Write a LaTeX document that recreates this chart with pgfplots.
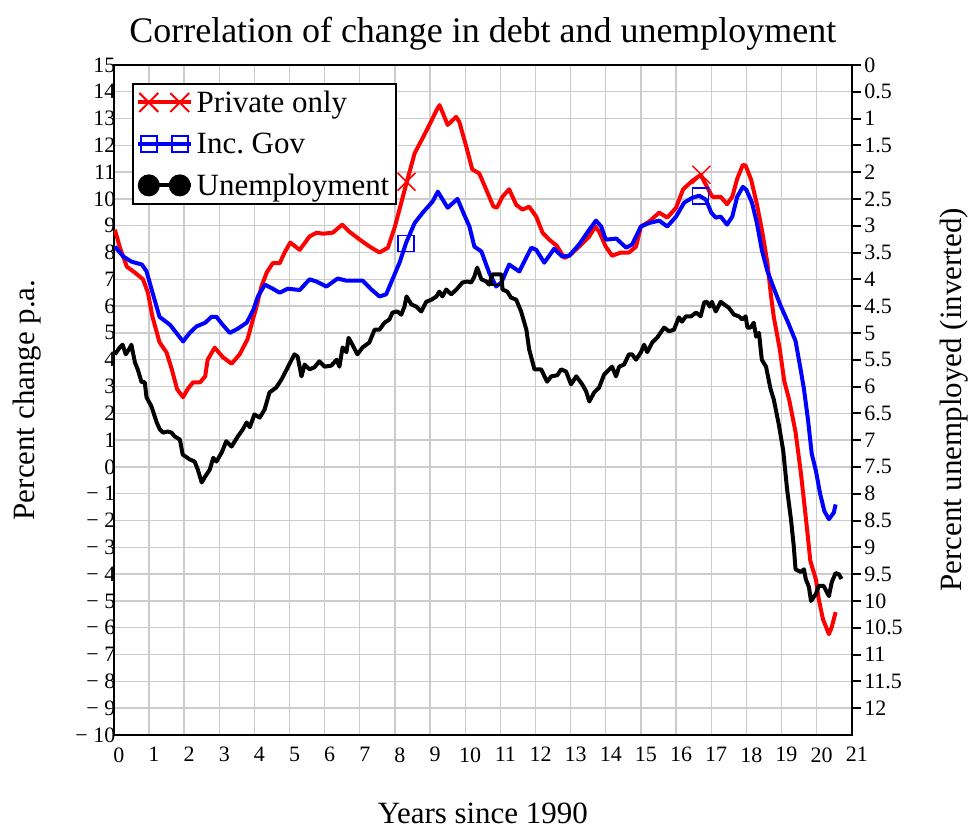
\documentclass[border=0pt]{standalone}
\usepackage{fontspec}
\setmainfont{Liberation Serif}
\usepackage{pgfplots}
\pgfplotsset{compat=1.18}
\usetikzlibrary{calc}

\newcommand{\tickfont}{\fontsize{22}{24}\selectfont}
\newcommand{\labfont}{\fontsize{31}{36}\selectfont}

\begin{document}
\begin{tikzpicture}
%------------- left axis: debt change -------------
\begin{axis}[
  name=ax,
  scale only axis, width=739pt, height=671pt,
  xmin=0, xmax=21, ymin=-10, ymax=15,
  xtick={0,...,21}, ytick={-10,...,15},
  yticklabels={− 10,− 9,− 8,− 7,− 6,− 5,− 4,− 3,− 2,− 1,0,1,2,3,4,5,6,7,8,9,10,11,12,13,14,15},
  grid=major, grid style={black!20, line width=1.3pt},
  major tick length=0pt,
  axis line style={line width=2pt},
  tick label style={font=\tickfont},
  /pgf/number format/assume math mode=true,
  xticklabel style={xshift=5pt, yshift=-9pt},
  yticklabel style={xshift=5pt},
  title={Correlation of change in debt and unemployment},
  title style={font=\fontsize{36}{40}\selectfont, yshift=5pt},
  xlabel={Years since 1990},
  xlabel style={font=\labfont, at={(axis description cs:0.5,-0.117)}, anchor=center},
  ylabel={Percent change p.a.},
  ylabel style={font=\labfont, at={(axis description cs:-0.117,0.5)}, anchor=center},
  legend style={at={(0.0244,0.973)}, anchor=north west, draw=black, line width=2pt,
                fill=white, font=\labfont, inner sep=3pt, row sep=11pt,
                nodes={inner sep=4pt}},
  legend cell align=left,
  legend image code/.code={\draw[#1, mark indices={2,3}] plot coordinates {(0pt,0pt) (11pt,0pt) (42pt,0pt) (53pt,0pt)};},
]
\addlegendimage{red, line width=4pt, mark=x, mark size=13.4pt, mark options={line width=2pt}}
\addlegendentry{Private only}
\addlegendimage{blue, line width=4pt, mark=square, mark size=8pt, mark options={line width=2pt, fill=white}}
\addlegendentry{Inc.\ Gov}
\addlegendimage{black, line width=4pt, mark=*, mark size=9pt, mark options={fill=black}}
\addlegendentry{Unemployment}

% private debt only
\addplot[forget plot, red, line width=4pt, line join=round] coordinates {
(0.03,8.85)(0.17,8.2)(0.37,7.47)(0.6,7.25)(0.83,7.0)(0.97,6.5)(1.1,5.6)(1.3,4.65)
(1.5,4.27)(1.65,3.64)(1.8,2.9)(1.97,2.6)(2.1,2.9)(2.25,3.15)(2.45,3.15)(2.6,3.38)
(2.67,4.0)(2.87,4.45)(3.1,4.1)(3.35,3.85)(3.58,4.2)(3.8,4.75)(4.06,5.98)(4.2,6.73)
(4.35,7.25)(4.52,7.6)(4.72,7.6)(4.86,8.0)(5.02,8.37)(5.29,8.1)(5.57,8.6)(5.77,8.74)
(5.95,8.7)(6.23,8.74)(6.5,9.04)(6.7,8.78)(7.0,8.48)(7.28,8.22)(7.56,8.0)(7.8,8.18)
(8.0,8.97)(8.18,9.86)(8.33,10.6)(8.56,11.7)(8.8,12.3)(8.98,12.76)(9.18,13.3)(9.27,13.5)
(9.5,12.76)(9.74,13.06)(9.83,12.88)(10.03,11.95)(10.2,11.1)(10.4,10.95)(10.6,10.34)
(10.8,9.72)(10.9,9.67)(11.06,10.08)(11.25,10.36)(11.45,9.78)(11.63,9.6)(11.82,9.71)
(12.02,9.34)(12.2,8.74)(12.39,8.48)(12.6,8.26)(12.82,7.8)(12.96,7.88)(13.24,8.22)
(13.53,8.6)(13.7,8.97)(13.81,8.78)(14.0,8.22)(14.18,7.88)(14.43,8.0)(14.66,8.0)
(14.86,8.22)(15.0,8.97)(15.23,9.15)(15.52,9.49)(15.75,9.3)(16.0,9.67)(16.2,10.36)
(16.46,10.67)(16.7,10.9)(16.94,10.3)(17.03,10.08)(17.27,10.08)(17.45,9.8)(17.6,10.08)
(17.74,10.75)(17.9,11.27)(17.98,11.24)(18.14,10.7)(18.3,9.8)(18.45,8.8)(18.6,7.6)
(18.7,6.4)(18.78,5.6)(18.95,4.4)(19.08,3.2)(19.22,2.5)(19.4,1.3)(19.55,-0.2)
(19.66,-1.5)(19.75,-2.6)(19.82,-3.5)(19.98,-4.2)(20.06,-4.93)(20.18,-5.68)
(20.35,-6.24)(20.43,-5.98)(20.54,-5.42)
};
\addplot[forget plot, only marks, red, mark=x, mark size=12.7pt, line width=1.5pt]
  coordinates {(8.33,10.64)(16.72,10.9)};

% including government debt
\addplot[forget plot, blue, line width=4pt, line join=round] coordinates {
(0.03,8.22)(0.27,7.85)(0.5,7.66)(0.8,7.55)(0.93,7.3)(1.08,6.6)(1.3,5.6)(1.6,5.3)
(1.78,5.0)(1.97,4.68)(2.16,5.0)(2.35,5.24)(2.6,5.38)(2.78,5.6)(2.92,5.6)(3.1,5.3)
(3.3,5.0)(3.53,5.16)(3.78,5.38)(3.97,5.86)(4.1,6.36)(4.3,6.8)(4.52,6.65)(4.72,6.5)
(4.95,6.65)(5.29,6.6)(5.57,7.0)(5.76,6.92)(6.05,6.73)(6.37,7.03)(6.61,6.95)
(7.08,6.95)(7.33,6.62)(7.56,6.36)(7.75,6.44)(7.93,7.0)(8.13,7.62)(8.32,8.37)
(8.56,9.1)(8.8,9.5)(9.07,9.9)(9.22,10.27)(9.5,9.67)(9.78,10.0)(9.97,9.41)(10.12,8.97)
(10.26,8.22)(10.46,8.04)(10.68,7.25)(10.88,6.73)(11.03,6.88)(11.25,7.55)(11.54,7.29)
(11.68,7.66)(11.88,8.18)(12.02,8.1)(12.25,7.62)(12.53,8.14)(12.76,7.85)(12.96,7.88)
(13.24,8.3)(13.53,8.85)(13.72,9.19)(13.87,8.97)(14.0,8.48)(14.3,8.52)(14.58,8.18)
(14.75,8.3)(15.0,8.97)(15.23,9.1)(15.52,9.19)(15.75,8.97)(16.0,9.34)(16.23,9.86)
(16.46,10.04)(16.66,10.12)(16.85,9.97)(17.0,9.49)(17.13,9.3)(17.27,9.34)(17.45,9.04)
(17.6,9.34)(17.74,10.08)(17.9,10.45)(18.0,10.34)(18.16,9.86)(18.3,9.1)(18.44,8.1)
(18.6,7.3)(18.83,6.5)(18.98,6.0)(19.2,5.35)(19.4,4.7)(19.55,3.6)(19.64,2.9)
(19.76,1.7)(19.86,0.5)(19.98,-0.15)(20.1,-1.0)(20.22,-1.65)(20.35,-1.95)
(20.49,-1.7)(20.54,-1.4)
};
\addplot[forget plot, only marks, blue, mark=square, mark size=8pt, line width=1.5pt]
  coordinates {(8.32,8.33)(16.7,10.1)};
\end{axis}

%------------- right axis: unemployment, inverted -------------
\begin{axis}[
  at={(ax.south west)}, anchor=south west,
  scale only axis, width=739pt, height=671pt,
  xmin=0, xmax=21, ymin=0, ymax=12.5, y dir=reverse,
  axis x line=none, axis y line*=right,
  ytick={0,0.5,...,12},
  tick align=outside, major tick length=9pt,
  tick style={black, line width=2pt},
  axis line style={line width=2pt},
  tick label style={font=\tickfont},
  /pgf/number format/assume math mode=true,
  ylabel={Percent unemployed (inverted)},
  ylabel style={font=\labfont, at={(axis description cs:1.138,0.5)}, anchor=center},
]
\addplot[black, line width=4pt, line join=round] coordinates {
(0.03,5.40)(0.17,5.27)(0.25,5.22)(0.34,5.40)(0.43,5.31)(0.5,5.22)(0.6,5.55)(0.68,5.68)
(0.79,5.92)(0.88,5.92)(0.93,6.2)(1.07,6.37)(1.22,6.67)(1.31,6.8)(1.4,6.86)(1.53,6.84)
(1.64,6.86)(1.73,6.93)(1.88,6.99)(1.96,7.27)(2.16,7.36)(2.3,7.4)(2.39,7.55)(2.5,7.79)
(2.59,7.69)(2.73,7.55)(2.83,7.33)(2.92,7.4)(3.07,7.23)(3.2,7.02)(3.35,7.12)(3.53,6.93)
(3.67,6.8)(3.78,6.67)(3.87,6.76)(4.0,6.52)(4.15,6.58)(4.29,6.43)(4.43,6.11)(4.62,6.02)
(4.77,5.87)(4.92,5.68)(5.06,5.5)(5.14,5.40)(5.23,5.44)(5.34,5.81)(5.43,5.59)(5.57,5.68)
(5.71,5.64)(5.85,5.53)(6.0,5.63)(6.19,5.61)(6.34,5.5)(6.42,5.63)(6.51,5.27)(6.62,5.36)
(6.68,5.09)(6.79,5.22)(6.93,5.40)(7.08,5.27)(7.27,5.18)(7.42,4.94)(7.56,4.94)(7.7,4.81)
(7.84,4.75)(7.93,4.62)(8.07,4.60)(8.18,4.66)(8.27,4.51)(8.33,4.32)(8.47,4.47)(8.61,4.51)
(8.75,4.60)(8.89,4.42)(9.04,4.38)(9.18,4.32)(9.26,4.23)(9.35,4.32)(9.46,4.19)(9.6,4.28)
(9.75,4.19)(9.83,4.13)(9.92,4.06)(10.06,4.04)(10.17,4.06)(10.26,3.95)(10.34,3.78)
(10.46,4.0)(10.6,4.04)(10.68,4.1)(10.77,3.91)(11.03,3.91)(11.06,4.19)(11.2,4.23)
(11.3,4.34)(11.45,4.38)(11.59,4.60)(11.74,4.94)(11.82,5.31)(11.97,5.68)(12.16,5.68)
(12.33,5.91)(12.45,5.81)(12.62,5.79)(12.73,5.68)(12.87,5.72)(13.01,5.96)(13.16,5.81)
(13.33,5.96)(13.44,6.09)(13.53,6.28)(13.67,6.11)(13.81,6.02)(13.95,5.78)(14.1,5.68)
(14.18,5.63)(14.29,5.81)(14.38,5.63)(14.52,5.59)(14.66,5.40)(14.75,5.40)(14.86,5.50)
(15.0,5.36)(15.09,5.22)(15.18,5.36)(15.32,5.18)(15.46,5.09)(15.66,4.9)(15.8,4.97)
(15.94,4.94)(16.08,4.71)(16.17,4.79)(16.28,4.69)(16.43,4.69)(16.57,4.62)(16.7,4.69)
(16.8,4.43)(16.88,4.42)(16.96,4.51)(17.02,4.42)(17.13,4.60)(17.27,4.42)(17.37,4.47)
(17.5,4.53)(17.65,4.66)(17.79,4.69)(17.88,4.75)(17.98,4.69)(18.03,4.9)(18.12,4.9)
(18.21,4.81)(18.28,5.07)(18.36,5.0)(18.44,5.5)(18.56,5.63)(18.69,6.05)(18.78,6.24)
(18.93,6.73)(19.05,7.2)(19.16,7.92)(19.27,8.48)(19.35,8.98)(19.4,9.41)(19.55,9.46)
(19.64,9.41)(19.69,9.59)(19.78,9.74)(19.84,10.0)(19.98,9.87)(20.06,9.72)(20.2,9.72)
(20.35,9.91)(20.43,9.65)(20.54,9.48)(20.63,9.5)(20.71,9.59)
};
\addplot[only marks, black, mark=square, mark size=5pt, line width=2pt]
  coordinates {(10.9,4.02)};
\end{axis}

% page frame with the reference's proportions
\path ($(ax.south west)+(-114pt,-96pt)$) rectangle ($(ax.south west)+(857pt,736pt)$);
\end{tikzpicture}
\end{document}
